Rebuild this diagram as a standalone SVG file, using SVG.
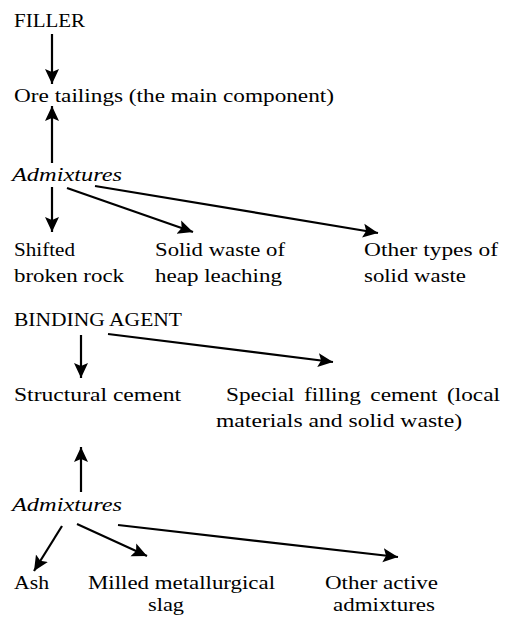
<svg xmlns="http://www.w3.org/2000/svg" width="510" height="619" viewBox="0 0 510 619">
<defs>
<style>
text{font-family:"Liberation Serif","DejaVu Serif","Times New Roman",Times,serif !important;font-size:19px;fill:#000}
.it{font-style:italic}
.c line{stroke:#000;stroke-width:2.2;fill:none;marker-end:url(#ah)}
</style>
<marker id="ah" markerUnits="userSpaceOnUse" markerWidth="16" markerHeight="16" viewBox="0 0 16 16" refX="15" refY="8" orient="auto">
<path d="M0,1 L15,8 L0,15 L3,8 Z" fill="#000"/>
</marker>
</defs>
<rect width="510" height="619" fill="#fff"/>
<g id="filler"><text x="14" y="27" textLength="71" lengthAdjust="spacingAndGlyphs">FILLER</text></g>
<g id="ore"><text x="14" y="102" textLength="320" lengthAdjust="spacingAndGlyphs">Ore tailings (the main component)</text></g>
<g id="admix1"><text class="it" x="12" y="181" textLength="110" lengthAdjust="spacingAndGlyphs">Admixtures</text></g>
<g id="shifted"><text x="14" y="256" textLength="61" lengthAdjust="spacingAndGlyphs">Shifted</text><text x="14" y="282" textLength="110" lengthAdjust="spacingAndGlyphs">broken rock</text></g>
<g id="heap"><text x="155" y="256" textLength="130" lengthAdjust="spacingAndGlyphs">Solid waste of</text><text x="155" y="282" textLength="127" lengthAdjust="spacingAndGlyphs">heap leaching</text></g>
<g id="othersolid"><text x="364" y="256" textLength="134" lengthAdjust="spacingAndGlyphs">Other types of</text><text x="364" y="282" textLength="102" lengthAdjust="spacingAndGlyphs">solid  waste</text></g>
<g id="binding"><text x="14" y="326" textLength="168" lengthAdjust="spacingAndGlyphs">BINDING AGENT</text></g>
<g id="structural"><text x="14" y="401" textLength="167" lengthAdjust="spacingAndGlyphs">Structural cement</text></g>
<g id="special"><text x="226" y="401" textLength="274" lengthAdjust="spacingAndGlyphs" word-spacing="3">Special filling cement (local</text><text x="216" y="427" textLength="246" lengthAdjust="spacingAndGlyphs">materials and solid waste)</text></g>
<g id="admix2"><text class="it" x="12" y="511" textLength="110" lengthAdjust="spacingAndGlyphs">Admixtures</text></g>
<g id="ash"><text x="14" y="589" textLength="35" lengthAdjust="spacingAndGlyphs">Ash</text></g>
<g id="slag"><text x="88" y="589" textLength="187" lengthAdjust="spacingAndGlyphs">Milled  metallurgical</text><text x="148" y="611" textLength="36" lengthAdjust="spacingAndGlyphs">slag</text></g>
<g id="otheractive"><text x="325" y="589" textLength="113" lengthAdjust="spacingAndGlyphs">Other active</text><text x="333" y="611" textLength="102" lengthAdjust="spacingAndGlyphs">admixtures</text></g>
<g id="connectors" class="c">
<line x1="52" y1="34" x2="52" y2="84"/>
<line x1="52" y1="163" x2="52" y2="106"/>
<line x1="52" y1="187" x2="52" y2="232"/>
<line x1="67" y1="188" x2="193" y2="232"/>
<line x1="95" y1="186" x2="378" y2="233"/>
<line x1="81" y1="335" x2="81" y2="378"/>
<line x1="108" y1="334" x2="333" y2="362"/>
<line x1="81" y1="492" x2="81" y2="447"/>
<line x1="62" y1="526" x2="34" y2="571"/>
<line x1="77" y1="524" x2="147" y2="556"/>
<line x1="118" y1="525" x2="398" y2="557"/>
</g>
</svg>
